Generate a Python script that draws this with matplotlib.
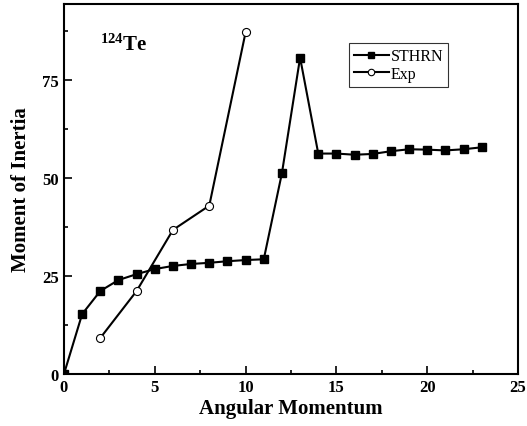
import matplotlib
matplotlib.use("Agg")
import matplotlib.pyplot as plt
from matplotlib.ticker import MultipleLocator

plt.rcParams['font.family'] = ['Liberation Serif', 'DejaVu Serif']
plt.rcParams['mathtext.fontset'] = 'custom'
plt.rcParams['mathtext.rm'] = 'Liberation Serif:bold'
plt.rcParams['mathtext.bf'] = 'Liberation Serif:bold'
plt.rcParams['mathtext.default'] = 'bf'

sthrn_x = [0, 1, 2, 3, 4, 5, 6, 7, 8, 9, 10, 11, 12, 13, 14, 15, 16, 17, 18, 19, 20, 21, 22, 23]
sthrn_y = [0, 15.3, 21.2, 24.0, 25.5, 26.8, 27.6, 28.1, 28.4, 28.8, 29.1, 29.3, 51.3, 80.8,
           56.3, 56.3, 56.0, 56.2, 56.9, 57.4, 57.3, 57.1, 57.4, 57.9]
exp_x = [2, 4, 6, 8, 10]
exp_y = [9.2, 21.2, 36.8, 43.0, 87.3]

fig = plt.figure(figsize=(5.27, 4.27), dpi=100)
ax = fig.add_axes([0.1214, 0.1218, 0.8616, 0.8665])

ax.plot(sthrn_x, sthrn_y, '-s', color='black', lw=1.5, ms=5.2, mfc='black', label='STHRN')
ax.plot(exp_x, exp_y, '-o', color='black', lw=1.5, ms=5.8, mfc='white', mew=0.8, label='Exp')

ax.set_xlim(0, 25)
ax.set_ylim(0, 94.5)
ax.xaxis.set_major_locator(MultipleLocator(5))
ax.xaxis.set_minor_locator(MultipleLocator(2.5))
ax.yaxis.set_major_locator(MultipleLocator(25))
ax.yaxis.set_minor_locator(MultipleLocator(12.5))
ax.tick_params(which='both', direction='in', top=False, right=False, width=1.2)
ax.tick_params(which='major', length=6, labelsize=12)
ax.tick_params(which='minor', length=3)
for lbl in ax.get_xticklabels() + ax.get_yticklabels():
    lbl.set_fontweight('bold')
for s in ax.spines.values():
    s.set_linewidth(1.5)

ax.set_xlabel('Angular Momentum', fontsize=15, fontweight='bold', labelpad=2)
ax.set_ylabel('Moment of Inertia', fontsize=15, fontweight='bold', labelpad=8)

ax.text(2.0, 84.3, r'$^{124}$Te', fontsize=15, fontweight='bold', va='center')

leg = ax.legend(loc='upper left', bbox_to_anchor=(0.61, 0.915), fontsize=11.5,
                frameon=True, fancybox=False, edgecolor='black', handlelength=2.2,
                borderpad=0.3, labelspacing=0.1, handletextpad=0.1, markerscale=0.8)
leg.get_frame().set_linewidth(0.8)

fig.savefig('out.png', dpi=100)
